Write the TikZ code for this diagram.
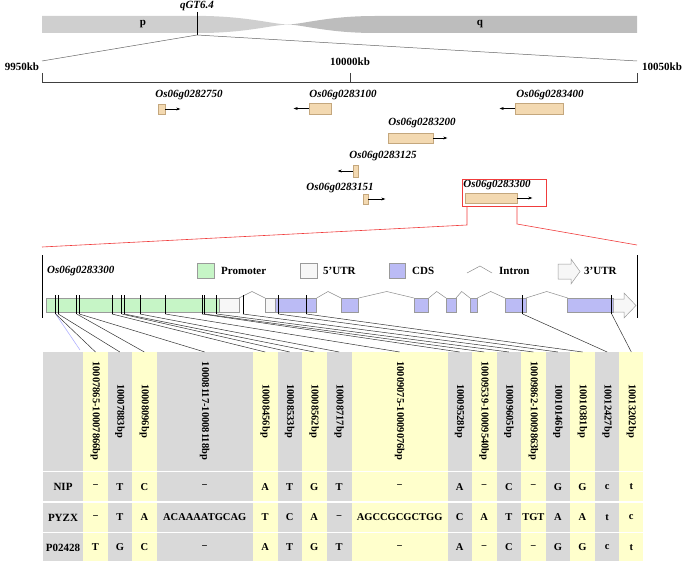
\documentclass[tikz,border=0pt]{standalone}
\usepackage{fontspec}
\setmainfont{Liberation Serif}
\usetikzlibrary{arrows.meta}

\definecolor{armp}{HTML}{CFCFCF}
\definecolor{armq}{HTML}{BDBDBD}
\definecolor{genefill}{HTML}{F3D9B1}
\definecolor{genedraw}{HTML}{C4A77D}
\definecolor{promfill}{HTML}{C6F5C6}
\definecolor{utrfill}{HTML}{F7F7F7}
\definecolor{cdsfill}{HTML}{BBBBF5}
\definecolor{boxdraw}{HTML}{9A9A9A}
\definecolor{cellgry}{HTML}{D9D9D9}
\definecolor{cellyel}{HTML}{FFFFCC}
\definecolor{zoomred}{HTML}{F03C3C}

\newcommand{\nd}{\char"2212}

\tikzset{
  txt/.style={font=\bfseries\fontsize{11}{13}\selectfont, inner sep=0pt},
  gname/.style={font=\bfseries\itshape\fontsize{11}{13}\selectfont, inner sep=0pt},
  genebox/.style={draw=genedraw, fill=genefill, line width=0.6pt, inner sep=0pt},
  strand/.style={-{Stealth[length=4pt,width=3pt]}, line width=0.5pt},
  promoter/.style={draw=boxdraw, fill=promfill, line width=0.5pt},
  utr/.style={draw=boxdraw, fill=utrfill, line width=0.5pt},
  cds/.style={draw=boxdraw, fill=cdsfill, line width=0.5pt},
  intron/.style={draw=black!45, line width=0.5pt},
  snp/.style={line width=0.9pt},
  link/.style={draw=black!80, line width=0.5pt},
  hdr/.style={rotate=-90, font=\bfseries\fontsize{10.5}{12}\selectfont, inner sep=0pt},
  cell/.style={font=\bfseries\fontsize{10.5}{12}\selectfont, inner sep=0pt}
}

\begin{document}
\begin{tikzpicture}[x=1pt,y=-1pt]
        \useasboundingbox (0,0) rectangle (685,567);

        % chromosome
        \fill[armp] (42,16) -- (206,16) .. controls (250,17) and (272,24) .. (288,24.5)
            .. controls (272,25) and (250,32) .. (206,33) -- (42,33) -- cycle;
        \fill[armq] (288,24.5) .. controls (304,24) and (328,16) .. (375,16) -- (637,16)
            -- (637,33) -- (375,33) .. controls (328,33) and (304,25) .. (288,24.5);
        \node[txt] (P) at (143,24.5) {p};
        \node[txt] (Q) at (480,24.5) {q};
        \node[gname] (QTL) at (197,6.5) {qGT6.4};
        \coordinate (QT) at (197,12);
        \coordinate (QB) at (197,35);
        \draw[line width=1pt] (QT) -- (QB);

        % scale
        \coordinate (SL) at (42,61);
        \coordinate (SR) at (637,61);
        \draw[black!60, line width=0.5pt] (SL) -- (QB) -- (SR);
        \node[txt] (KB1) at (22,67)  {9950kb};
        \node[txt] (KB2) at (350,62) {10000kb};
        \node[txt] (KB3) at (662,67) {10050kb};
        \draw[line width=0.6pt, black!75] (42,73) -- (42,82) -- (637,82) -- (637,73);
        \draw[line width=0.6pt, black!75] (350,73) -- (350,82);

        % genes
        \node[genebox, minimum width=7pt,  minimum height=10pt] (G1) at (161.5,109) {};
        \node[genebox, minimum width=22pt, minimum height=11pt] (G2) at (320,108.5) {};
        \node[genebox, minimum width=48pt, minimum height=11pt] (G3) at (539,108.5) {};
        \node[genebox, minimum width=45pt, minimum height=10pt] (G4) at (410.5,138) {};
        \node[genebox, minimum width=5pt,  minimum height=12pt] (G5) at (355.5,171) {};
        \node[genebox, minimum width=5pt,  minimum height=10pt] (G6) at (365.5,199) {};
        \node[genebox, minimum width=52pt, minimum height=10pt] (G7) at (491,198) {};

        \node[gname] (N1) at (189,95)  {Os06g0282750};
        \node[gname] (N2) at (343,95)  {Os06g0283100};
        \node[gname] (N3) at (550,95)  {Os06g0283400};
        \node[gname] (N4) at (422,123) {Os06g0283200};
        \node[gname] (N5) at (383,156) {Os06g0283125};
        \node[gname] (N6) at (340,188) {Os06g0283151};
        \node[gname] (N7) at (497,185) {Os06g0283300};

        \draw[strand] (G1.east) -- ++(15,0);
        \draw[strand] (G2.west) -- ++(-15,0);
        \draw[strand] (G3.west) -- ++(-15,0);
        \draw[strand] (G4.east) -- ++(14,0);
        \draw[strand] (G5.west) -- ++(-15,0);
        \draw[strand] (G6.east) -- ++(17,0);
        \draw[strand] (G7.east) -- ++(15,0);

        % zoom box
        \draw[zoomred, line width=0.9pt] (462,179) rectangle (546,206);
        \coordinate (RL) at (42,247);
        \coordinate (RR) at (637,245);
        \draw[zoomred, line width=0.6pt] (467,206) -- (467,225) -- (RL);
        \draw[zoomred, line width=0.6pt] (517,206) -- (517,224) -- (RR);

        % gene structure
        \draw[line width=0.8pt] (42,255) -- (42,318);
        \draw[line width=0.8pt] (637,255) -- (637,318);
        \node[gname, anchor=west] (GS) at (47,271) {Os06g0283300};

        % legend
        \draw[promoter] (197,263) rectangle (214,278);
        \node[txt, anchor=west] (L1) at (221,271) {Promoter};
        \draw[utr] (300,263) rectangle (317,278);
        \node[txt, anchor=west] (L2) at (323,271) {5’UTR};
        \draw[cds] (389,263) rectangle (405,278);
        \node[txt, anchor=west] (L3) at (412,271) {CDS};
        \draw[intron] (467,273) -- (480,266) -- (492,273);
        \node[txt, anchor=west] (L4) at (499,271) {Intron};
        \draw[utr] (558,264) -- (571,264) -- (571,259) -- (580,271.5) -- (571,284)
            -- (571,279) -- (558,279) -- cycle;
        \node[txt, anchor=west] (L5) at (584,271) {3’UTR};

        % introns
        \foreach \a/\p/\b in {239/252/265, 316.7/328/341, 358.7/386.7/414, 428.7/436.7/446,
                              456/461.7/470, 477.3/490.7/505, 526/546.7/567.7}
            \draw[intron] (\a,298) -- (\p,291.5) -- (\b,298);

        % exons
        \draw[promoter] (46,298) rectangle (219.6,312);
        \draw[utr] (219.6,298) rectangle (239,312);
        \draw[utr] (265,298) rectangle (275.7,312);
        \draw[cds] (275.7,298) rectangle (316.7,312);
        \draw[cds] (341,298) rectangle (358.7,312);
        \draw[cds] (414,298) rectangle (428.7,312);
        \draw[cds] (446,298) rectangle (456,312);
        \draw[cds] (470,298) rectangle (477.3,312);
        \draw[cds] (505,298) rectangle (526,312);
        \draw[cds] (567.7,298) rectangle (613.3,312);
        \draw[utr] (613.3,299) -- (624,299) -- (624,293) -- (636,305.5) -- (624,318)
            -- (624,312) -- (613.3,312) -- cycle;

        % variant sites
        \foreach \x [count=\i] in {55.7,58.3,76.7,79.3,112,121.7,124.3,140,165.3,
                                   202,204.7,216.7,243,278.3,306.3,522.7,611.7} {
            \draw[snp] (\x,295) -- (\x,314);
            \coordinate (M\i) at (\x,314);
        }

        % table
        \fill[cellgry] (42.7,352) rectangle (83.3,561);
        \node[txt] (NIP)  at (63,487)   {NIP};
        \node[txt] (PYZX) at (63,517.5) {PYZX};
        \node[txt] (P02)  at (63,547.5) {P02428};
        \foreach \l/\r/\t/\c/\u/\v/\w [count=\i] in {
            83.3/107.7/10007865-10007866bp/cellyel/\nd/\nd/T,
            107.7/132/10007883bp/cellgry/T/T/G,
            132/156.7/10008096bp/cellyel/C/A/C,
            156.7/252.7/10008117-10008118bp/cellgry/\nd/ACAAAATGCAG/\nd,
            252.7/277.7/10008456bp/cellyel/A/T/A,
            277.7/301.7/10008533bp/cellgry/T/C/T,
            301.7/326.7/10008562bp/cellyel/G/A/G,
            326.7/351.7/10008717bp/cellgry/T/\nd/T,
            351.7/447.7/10009075-10009076bp/cellyel/\nd/AGCCGCGCTGG/\nd,
            447.7/471.7/10009528bp/cellgry/A/C/A,
            471.7/496.7/10009539-10009540bp/cellyel/\nd/A/\nd,
            496.7/521/10009605bp/cellgry/C/T/C,
            521/545.7/10009862-10009863bp/cellyel/\nd/TGT/\nd,
            545.7/570/10010146bp/cellgry/G/A/G,
            570/595/10010381bp/cellyel/G/A/G,
            595/619.3/10012427bp/cellgry/c/t/c,
            619.3/643.3/10013202bp/cellyel/t/c/t} {
            \fill[\c] (\l,352) rectangle (\r,561);
            \node[hdr] (H\i) at ({(\l+\r)/2},411) {\t};
            \coordinate (T\i) at ({(\l+\r)/2},352);
            \node[cell] (A\i) at ({(\l+\r)/2},487)   {\u};
            \node[cell] (B\i) at ({(\l+\r)/2},517.5) {\v};
            \node[cell] (C\i) at ({(\l+\r)/2},547.5) {\w};
        }
        \draw[white, line width=1.2pt] (42.7,471.5) -- (643.3,471.5);
        \draw[white, line width=1.2pt] (42.7,502) -- (643.3,502);
        \draw[white, line width=1.2pt] (42.7,532.5) -- (643.3,532.5);

        % links
        \coordinate (BL) at (80,350);
        \draw[blue!30, line width=0.6pt] (M1) -- (BL);
        \foreach \i in {1,...,17}
            \draw[link] (M\i) -- (T\i);
\end{tikzpicture}
\end{document}
